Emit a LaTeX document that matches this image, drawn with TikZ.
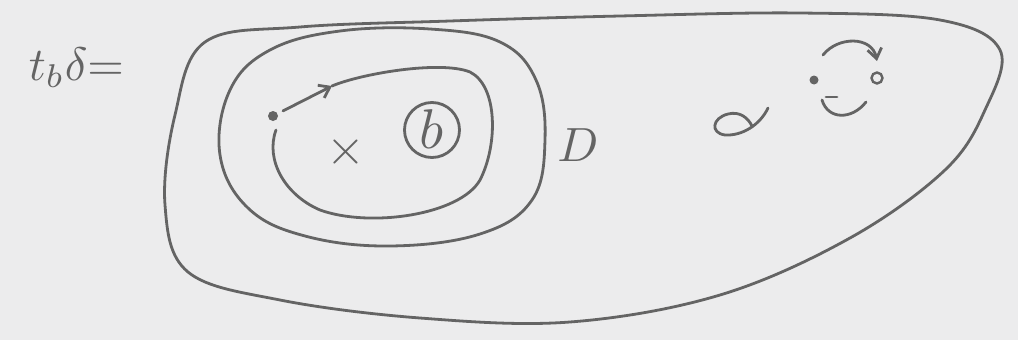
\documentclass[tikz,border=0pt]{standalone}
\usepackage{amsmath, amssymb}
\usetikzlibrary{arrows.meta, calc}
\definecolor{tinta}{RGB}{100,100,100}
\definecolor{papel}{RGB}{236,236,237}
\tikzset{
  trazo/.style={draw=tinta, line width=2.8pt, line cap=round, line join=round},
  flecha/.style={trazo, -{Straight Barb[length=3.5mm, width=5mm]}},
  letra/.style={text=tinta, inner sep=0pt},
  punto/.style={circle, fill=tinta, inner sep=0pt}
}
\begin{document}
\begin{tikzpicture}[x=1pt, y=-1pt]
    \fill[papel] (0,0) rectangle (1018,340);
    \useasboundingbox (0,0) rectangle (1018,340);
    % etiqueta
    \node[letra, anchor=base west, scale=4.7] (lbl) at (28,80) {$t_b\delta{=}$};
    % region exterior
    \draw[trazo] plot[smooth cycle, tension=0.6] coordinates {
      (205,42) (300,27) (450,21) (620,16) (800,13) (940,20) (1000,50)
      (985,110) (945,170) (850,238) (720,295) (570,322) (420,318)
      (280,300) (188,272) (165,205) (175,115)};
    % lazo medio
    \draw[trazo] plot[smooth cycle, tension=0.65] coordinates {
      (230,90) (270,50) (340,31) (430,29) (500,42) (536,80) (545,140)
      (532,200) (480,234) (390,246) (305,236) (248,208) (220,155)};
    % lazo interior con flecha
    \node[punto, minimum width=7pt, minimum height=10pt] (inicio) at (273,116) {};
    \coordinate (giro) at (332,86);
    \coordinate (fin) at (276,130);
    \draw[flecha, shorten <=6pt] (inicio) -- (giro);
    \draw[trazo] (giro) .. controls (360,74) and (440,60) .. (470,72)
      .. controls (498,86) and (498,145) .. (480,180)
      .. controls (460,215) and (370,228) .. (320,210)
      .. controls (285,195) and (265,160) .. (fin);
    \draw[trazo] (432,130) circle[radius=27.5];
    \node[letra, scale=5.6] (bb) at (432,129) {$b$};
    \node[letra, scale=5] (cruz) at (346,152) {$\times$};
    \node[letra, scale=4.8] (dd) at (578,145) {$D$};
    % a la derecha
    \draw[trazo] (768,108) .. controls (760,125) and (742,136) .. (725,135)
      .. controls (710,133) and (712,118) .. (728,114)
      .. controls (740,111) and (748,118) .. (752,126);
    \node[punto, minimum size=9pt] (mancha) at (814,80) {};
    \node[circle, draw=tinta, line width=2.4pt, minimum size=11pt, inner sep=0pt] (anillo) at (877,78) {};
    \coordinate (sale) at (823,55);
    \coordinate (llega) at (877,61);
    \draw[flecha] (sale) .. controls (838,36) and (872,36) .. (llega);
    \draw[trazo] (826,97) -- (837,97);
    \draw[trazo] (822,100) .. controls (828,120) and (852,120) .. (866,102);
\end{tikzpicture}
\end{document}
